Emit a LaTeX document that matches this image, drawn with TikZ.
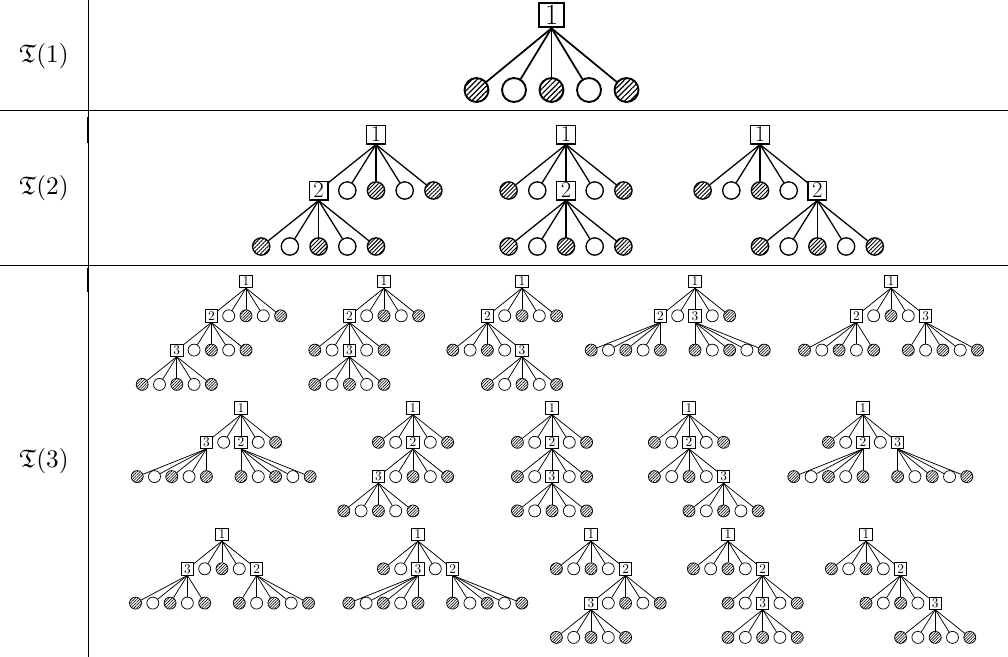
\documentclass[tikz,border=0pt]{standalone}
\usepackage{amssymb}
\usetikzlibrary{patterns.meta}
\newcommand\kids[5]{%
  \foreach \itm [count=\kk] in {#5} {%
    \if\itm h\relax
      \node[hnode] (#2\kk) at ({#3+(\kk-3)*\csp},{#4}) {};
    \else\if\itm o\relax
      \node[onode] (#2\kk) at ({#3+(\kk-3)*\csp},{#4}) {};
    \else
      \node[bnode] (#2\kk) at ({#3+(\kk-3)*\csp},{#4}) {\itm};
    \fi\fi
    \draw[enode] (#1.south) -- (#2\kk);
  }%
}
\tikzset{
  tbl/.style={line width=0.55pt},
  tblmark/.style={line width=1.1pt},
  lbl/.style={scale=1.9,inner sep=0pt},
  edgeA/.style={line width=1.3pt},
  opnA/.style={circle,draw,line width=1.4pt,minimum size=18pt,inner sep=0pt},
  hatA/.style={opnA,pattern={Lines[angle=45,distance=2.8pt,line width=0.9pt]}},
  boxA/.style={rectangle,draw,line width=1.4pt,minimum size=18.5pt,inner sep=0pt,font=\fontsize{22}{24}\selectfont},
  edgeB/.style={line width=0.95pt},
  opnB/.style={circle,draw,line width=1pt,minimum size=13pt,inner sep=0pt},
  hatB/.style={opnB,pattern={Lines[angle=45,distance=2.1pt,line width=0.7pt]}},
  boxB/.style={rectangle,draw,line width=1pt,minimum size=14pt,inner sep=0pt,font=\fontsize{17}{19}\selectfont},
  edgeC/.style={line width=0.55pt},
  opnC/.style={circle,draw,line width=0.55pt,minimum size=9pt,inner sep=0pt},
  hatC/.style={opnC,pattern={Lines[angle=45,distance=1.5pt,line width=0.45pt]}},
  boxC/.style={rectangle,draw,line width=0.6pt,minimum size=9.3pt,inner sep=0pt,font=\fontsize{10}{11}\selectfont},
}
\begin{document}
\begin{tikzpicture}[x=0.75pt,y=-0.75pt]
\useasboundingbox (0,0) rectangle (1008,657);
% table rules
\coordinate (v0) at (88,0); \coordinate (v1) at (88,657);
\coordinate (h1a) at (0,110); \coordinate (h1b) at (1008,110);
\coordinate (h2a) at (0,265); \coordinate (h2b) at (1008,265);
\draw[tbl] (v0) -- (v1);
\draw[tbl] (h1a) -- (h1b);
\draw[tbl] (h2a) -- (h2b);
\draw[tblmark] (88,117) -- (88,143);
\draw[tblmark] (88,268) -- (88,292);
% labels
\node[lbl] (L1) at (44,56) {$\mathfrak{T}(1)$};
\node[lbl] (L2) at (44,188) {$\mathfrak{T}(2)$};
\node[lbl] (L3) at (44,461) {$\mathfrak{T}(3)$};
% ---------- row 1
\begin{scope}[hnode/.style=hatA,onode/.style=opnA,bnode/.style=boxA,enode/.style=edgeA]
\def\csp{37.5}
\node[bnode] (t1) at (551.5,15) {1};
\kids{t1}{t1-}{551.5}{90}{h,o,h,o,h}
\end{scope}
% ---------- row 2
\begin{scope}[hnode/.style=hatB,onode/.style=opnB,bnode/.style=boxB,enode/.style=edgeB]
\def\csp{28.7}
\def\Y{134.5}\def\H{56}
\node[bnode] (u1) at (376,\Y) {1};
\kids{u1}{u1-}{376}{\Y+\H}{2,o,h,o,h}
\kids{u1-1}{u1-1-}{376-2*\csp}{\Y+2*\H}{h,o,h,o,h}
\node[bnode] (u2) at (566,\Y) {1};
\kids{u2}{u2-}{566}{\Y+\H}{h,o,2,o,h}
\kids{u2-3}{u2-3-}{566}{\Y+2*\H}{h,o,h,o,h}
\node[bnode] (u3) at (760,\Y) {1};
\kids{u3}{u3-}{760}{\Y+\H}{h,o,h,o,2}
\kids{u3-5}{u3-5-}{760+2*\csp}{\Y+2*\H}{h,o,h,o,h}
\end{scope}
% ---------- row 3
\begin{scope}[hnode/.style=hatC,onode/.style=opnC,bnode/.style=boxC,enode/.style=edgeC]
\def\csp{17.3}\def\H{34.3}
% --- line A
\def\Y{281.5}
\node[bnode] (a1) at (246,\Y) {1};
\kids{a1}{a1-}{246}{\Y+\H}{2,o,h,o,h}
\kids{a1-1}{a1-1-}{246-2*\csp}{\Y+2*\H}{3,o,h,o,h}
\kids{a1-1-1}{a1-1-1-}{246-4*\csp}{\Y+3*\H}{h,o,h,o,h}
\node[bnode] (a2) at (384,\Y) {1};
\kids{a2}{a2-}{384}{\Y+\H}{2,o,h,o,h}
\kids{a2-1}{a2-1-}{384-2*\csp}{\Y+2*\H}{h,o,3,o,h}
\kids{a2-1-3}{a2-1-3-}{384-2*\csp}{\Y+3*\H}{h,o,h,o,h}
\node[bnode] (a3) at (522,\Y) {1};
\kids{a3}{a3-}{522}{\Y+\H}{2,o,h,o,h}
\kids{a3-1}{a3-1-}{522-2*\csp}{\Y+2*\H}{h,o,h,o,3}
\kids{a3-1-5}{a3-1-5-}{522}{\Y+3*\H}{h,o,h,o,h}
\node[bnode] (a4) at (695,\Y) {1};
\kids{a4}{a4-}{695}{\Y+\H}{2,o,3,o,h}
\kids{a4-1}{a4-1-}{695-4*\csp}{\Y+2*\H}{h,o,h,o,h}
\kids{a4-3}{a4-3-}{695+2*\csp}{\Y+2*\H}{h,o,h,o,h}
\node[bnode] (a5) at (891,\Y) {1};
\kids{a5}{a5-}{891}{\Y+\H}{2,o,h,o,3}
\kids{a5-1}{a5-1-}{891-3*\csp}{\Y+2*\H}{h,o,h,o,h}
\kids{a5-5}{a5-5-}{891+3*\csp}{\Y+2*\H}{h,o,h,o,h}
% --- line B
\def\Y{408}
\node[bnode] (b1) at (241,\Y) {1};
\kids{b1}{b1-}{241}{\Y+\H}{3,o,2,o,h}
\kids{b1-1}{b1-1-}{241-4*\csp}{\Y+2*\H}{h,o,h,o,h}
\kids{b1-3}{b1-3-}{241+2*\csp}{\Y+2*\H}{h,o,h,o,h}
\node[bnode] (b2) at (413,\Y) {1};
\kids{b2}{b2-}{413}{\Y+\H}{h,o,2,o,h}
\kids{b2-3}{b2-3-}{413}{\Y+2*\H}{3,o,h,o,h}
\kids{b2-3-1}{b2-3-1-}{413-2*\csp}{\Y+3*\H}{h,o,h,o,h}
\node[bnode] (b3) at (552,\Y) {1};
\kids{b3}{b3-}{552}{\Y+\H}{h,o,2,o,h}
\kids{b3-3}{b3-3-}{552}{\Y+2*\H}{h,o,3,o,h}
\kids{b3-3-3}{b3-3-3-}{552}{\Y+3*\H}{h,o,h,o,h}
\node[bnode] (b4) at (689,\Y) {1};
\kids{b4}{b4-}{689}{\Y+\H}{h,o,2,o,h}
\kids{b4-3}{b4-3-}{689}{\Y+2*\H}{h,o,h,o,3}
\kids{b4-3-5}{b4-3-5-}{689+2*\csp}{\Y+3*\H}{h,o,h,o,h}
\node[bnode] (b5) at (863,\Y) {1};
\kids{b5}{b5-}{863}{\Y+\H}{h,o,2,o,3}
\kids{b5-3}{b5-3-}{863-2*\csp}{\Y+2*\H}{h,o,h,o,h}
\kids{b5-5}{b5-5-}{863+4*\csp}{\Y+2*\H}{h,o,h,o,h}
% --- line C
\def\Y{534.5}
\node[bnode] (c1) at (222,\Y) {1};
\kids{c1}{c1-}{222}{\Y+\H}{3,o,h,o,2}
\kids{c1-1}{c1-1-}{222-3*\csp}{\Y+2*\H}{h,o,h,o,h}
\kids{c1-5}{c1-5-}{222+3*\csp}{\Y+2*\H}{h,o,h,o,h}
\node[bnode] (c2) at (418,\Y) {1};
\kids{c2}{c2-}{418}{\Y+\H}{h,o,3,o,2}
\kids{c2-3}{c2-3-}{418-2*\csp}{\Y+2*\H}{h,o,h,o,h}
\kids{c2-5}{c2-5-}{418+4*\csp}{\Y+2*\H}{h,o,h,o,h}
\node[bnode] (c3) at (591,\Y) {1};
\kids{c3}{c3-}{591}{\Y+\H}{h,o,h,o,2}
\kids{c3-5}{c3-5-}{591+2*\csp}{\Y+2*\H}{3,o,h,o,h}
\kids{c3-5-1}{c3-5-1-}{591}{\Y+3*\H}{h,o,h,o,h}
\node[bnode] (c4) at (728,\Y) {1};
\kids{c4}{c4-}{728}{\Y+\H}{h,o,h,o,2}
\kids{c4-5}{c4-5-}{728+2*\csp}{\Y+2*\H}{h,o,3,o,h}
\kids{c4-5-3}{c4-5-3-}{728+2*\csp}{\Y+3*\H}{h,o,h,o,h}
\node[bnode] (c5) at (866,\Y) {1};
\kids{c5}{c5-}{866}{\Y+\H}{h,o,h,o,2}
\kids{c5-5}{c5-5-}{866+2*\csp}{\Y+2*\H}{h,o,h,o,3}
\kids{c5-5-5}{c5-5-5-}{866+4*\csp}{\Y+3*\H}{h,o,h,o,h}
\end{scope}
\end{tikzpicture}
\end{document}
